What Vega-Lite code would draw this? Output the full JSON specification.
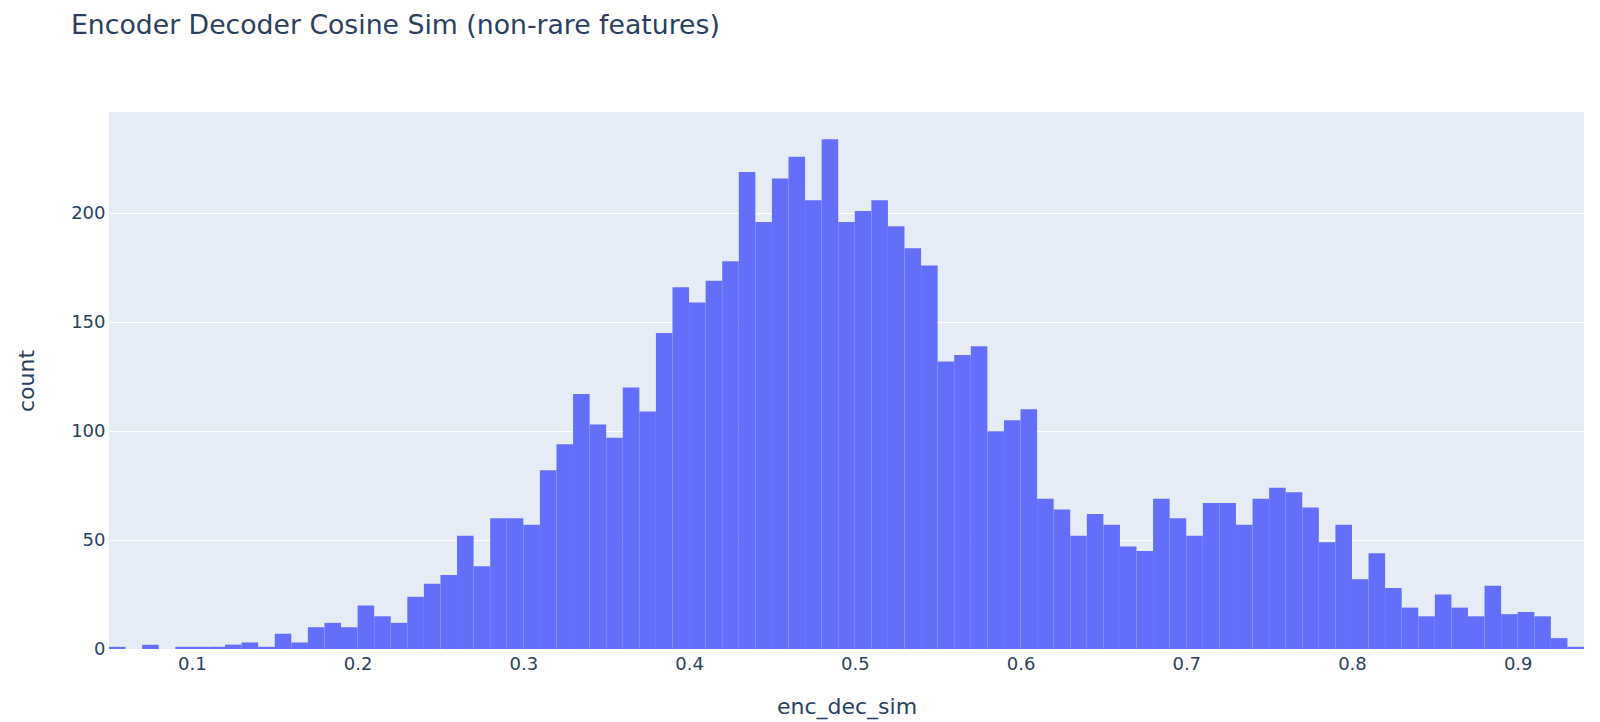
{
  "$schema": "https://vega.github.io/schema/vega-lite/v6.json",
  "width": 1475,
  "height": 537,
  "autosize": {"type": "none"},
  "padding": {"left": 109, "top": 112, "right": 16, "bottom": 73},
  "background": "white",
  "config": {
    "view": {"fill": "#E5ECF6", "stroke": null},
    "font": "DejaVu Sans"
  },
  "title": {
    "text": "Encoder Decoder Cosine Sim (non-rare features)",
    "anchor": "start",
    "frame": "group",
    "orient": "top",
    "baseline": "alphabetic",
    "offset": 51,
    "dx": -38,
    "font": "DejaVu Sans",
    "fontSize": 26.7,
    "fontWeight": "normal",
    "color": "#2a3f5f"
  },
  "data": {
    "values": [
      {"bin_start": 0.05, "bin_end": 0.06, "count": 1},
      {"bin_start": 0.07, "bin_end": 0.08, "count": 2},
      {"bin_start": 0.09, "bin_end": 0.10, "count": 1},
      {"bin_start": 0.10, "bin_end": 0.11, "count": 1},
      {"bin_start": 0.11, "bin_end": 0.12, "count": 1},
      {"bin_start": 0.12, "bin_end": 0.13, "count": 2},
      {"bin_start": 0.13, "bin_end": 0.14, "count": 3},
      {"bin_start": 0.14, "bin_end": 0.15, "count": 1},
      {"bin_start": 0.15, "bin_end": 0.16, "count": 7},
      {"bin_start": 0.16, "bin_end": 0.17, "count": 3},
      {"bin_start": 0.17, "bin_end": 0.18, "count": 10},
      {"bin_start": 0.18, "bin_end": 0.19, "count": 12},
      {"bin_start": 0.19, "bin_end": 0.20, "count": 10},
      {"bin_start": 0.20, "bin_end": 0.21, "count": 20},
      {"bin_start": 0.21, "bin_end": 0.22, "count": 15},
      {"bin_start": 0.22, "bin_end": 0.23, "count": 12},
      {"bin_start": 0.23, "bin_end": 0.24, "count": 24},
      {"bin_start": 0.24, "bin_end": 0.25, "count": 30},
      {"bin_start": 0.25, "bin_end": 0.26, "count": 34},
      {"bin_start": 0.26, "bin_end": 0.27, "count": 52},
      {"bin_start": 0.27, "bin_end": 0.28, "count": 38},
      {"bin_start": 0.28, "bin_end": 0.29, "count": 60},
      {"bin_start": 0.29, "bin_end": 0.30, "count": 60},
      {"bin_start": 0.30, "bin_end": 0.31, "count": 57},
      {"bin_start": 0.31, "bin_end": 0.32, "count": 82},
      {"bin_start": 0.32, "bin_end": 0.33, "count": 94},
      {"bin_start": 0.33, "bin_end": 0.34, "count": 117},
      {"bin_start": 0.34, "bin_end": 0.35, "count": 103},
      {"bin_start": 0.35, "bin_end": 0.36, "count": 97},
      {"bin_start": 0.36, "bin_end": 0.37, "count": 120},
      {"bin_start": 0.37, "bin_end": 0.38, "count": 109},
      {"bin_start": 0.38, "bin_end": 0.39, "count": 145},
      {"bin_start": 0.39, "bin_end": 0.40, "count": 166},
      {"bin_start": 0.40, "bin_end": 0.41, "count": 159},
      {"bin_start": 0.41, "bin_end": 0.42, "count": 169},
      {"bin_start": 0.42, "bin_end": 0.43, "count": 178},
      {"bin_start": 0.43, "bin_end": 0.44, "count": 219},
      {"bin_start": 0.44, "bin_end": 0.45, "count": 196},
      {"bin_start": 0.45, "bin_end": 0.46, "count": 216},
      {"bin_start": 0.46, "bin_end": 0.47, "count": 226},
      {"bin_start": 0.47, "bin_end": 0.48, "count": 206},
      {"bin_start": 0.48, "bin_end": 0.49, "count": 234},
      {"bin_start": 0.49, "bin_end": 0.50, "count": 196},
      {"bin_start": 0.50, "bin_end": 0.51, "count": 201},
      {"bin_start": 0.51, "bin_end": 0.52, "count": 206},
      {"bin_start": 0.52, "bin_end": 0.53, "count": 194},
      {"bin_start": 0.53, "bin_end": 0.54, "count": 184},
      {"bin_start": 0.54, "bin_end": 0.55, "count": 176},
      {"bin_start": 0.55, "bin_end": 0.56, "count": 132},
      {"bin_start": 0.56, "bin_end": 0.57, "count": 135},
      {"bin_start": 0.57, "bin_end": 0.58, "count": 139},
      {"bin_start": 0.58, "bin_end": 0.59, "count": 100},
      {"bin_start": 0.59, "bin_end": 0.60, "count": 105},
      {"bin_start": 0.60, "bin_end": 0.61, "count": 110},
      {"bin_start": 0.61, "bin_end": 0.62, "count": 69},
      {"bin_start": 0.62, "bin_end": 0.63, "count": 64},
      {"bin_start": 0.63, "bin_end": 0.64, "count": 52},
      {"bin_start": 0.64, "bin_end": 0.65, "count": 62},
      {"bin_start": 0.65, "bin_end": 0.66, "count": 57},
      {"bin_start": 0.66, "bin_end": 0.67, "count": 47},
      {"bin_start": 0.67, "bin_end": 0.68, "count": 45},
      {"bin_start": 0.68, "bin_end": 0.69, "count": 69},
      {"bin_start": 0.69, "bin_end": 0.70, "count": 60},
      {"bin_start": 0.70, "bin_end": 0.71, "count": 52},
      {"bin_start": 0.71, "bin_end": 0.72, "count": 67},
      {"bin_start": 0.72, "bin_end": 0.73, "count": 67},
      {"bin_start": 0.73, "bin_end": 0.74, "count": 57},
      {"bin_start": 0.74, "bin_end": 0.75, "count": 69},
      {"bin_start": 0.75, "bin_end": 0.76, "count": 74},
      {"bin_start": 0.76, "bin_end": 0.77, "count": 72},
      {"bin_start": 0.77, "bin_end": 0.78, "count": 65},
      {"bin_start": 0.78, "bin_end": 0.79, "count": 49},
      {"bin_start": 0.79, "bin_end": 0.80, "count": 57},
      {"bin_start": 0.80, "bin_end": 0.81, "count": 32},
      {"bin_start": 0.81, "bin_end": 0.82, "count": 44},
      {"bin_start": 0.82, "bin_end": 0.83, "count": 28},
      {"bin_start": 0.83, "bin_end": 0.84, "count": 19},
      {"bin_start": 0.84, "bin_end": 0.85, "count": 15},
      {"bin_start": 0.85, "bin_end": 0.86, "count": 25},
      {"bin_start": 0.86, "bin_end": 0.87, "count": 19},
      {"bin_start": 0.87, "bin_end": 0.88, "count": 15},
      {"bin_start": 0.88, "bin_end": 0.89, "count": 29},
      {"bin_start": 0.89, "bin_end": 0.90, "count": 16},
      {"bin_start": 0.90, "bin_end": 0.91, "count": 17},
      {"bin_start": 0.91, "bin_end": 0.92, "count": 15},
      {"bin_start": 0.92, "bin_end": 0.93, "count": 5},
      {"bin_start": 0.93, "bin_end": 0.94, "count": 1}
    ]
  },
  "mark": {"type": "rect", "fill": "#636efa", "strokeWidth": 0},
  "encoding": {
    "x": {
      "field": "bin_start",
      "type": "quantitative",
      "scale": {"domain": [0.05, 0.94], "nice": false, "zero": false},
      "axis": {
        "title": "enc_dec_sim",
        "values": [0.1, 0.2, 0.3, 0.4, 0.5, 0.6, 0.7, 0.8, 0.9],
        "format": ".1f",
        "grid": false,
        "domain": false,
        "ticks": false,
        "labelFont": "DejaVu Sans",
        "labelFontSize": 18,
        "labelColor": "#2a3f5f",
        "labelBaseline": "alphabetic",
        "labelPadding": 20,
        "labelFlush": false,
        "titleFont": "DejaVu Sans",
        "titleFontSize": 22,
        "titleFontWeight": "normal",
        "titleColor": "#2a3f5f",
        "titleBaseline": "alphabetic",
        "titleY": 64
      }
    },
    "x2": {"field": "bin_end"},
    "y": {
      "field": "count",
      "type": "quantitative",
      "scale": {"domain": [0, 246.5], "nice": false},
      "axis": {
        "title": "count",
        "values": [0, 50, 100, 150, 200],
        "grid": true,
        "gridColor": "white",
        "gridWidth": 1,
        "domain": false,
        "ticks": false,
        "labelFont": "DejaVu Sans",
        "labelFontSize": 18,
        "labelColor": "#2a3f5f",
        "labelPadding": 4,
        "labelFlush": false,
        "titleFont": "DejaVu Sans",
        "titleFontSize": 22,
        "titleFontWeight": "normal",
        "titleColor": "#2a3f5f",
        "titleAngle": -90,
        "titleBaseline": "middle",
        "titleX": -83,
        "titleY": 268.5
      }
    },
    "y2": {"datum": 0}
  }
}
